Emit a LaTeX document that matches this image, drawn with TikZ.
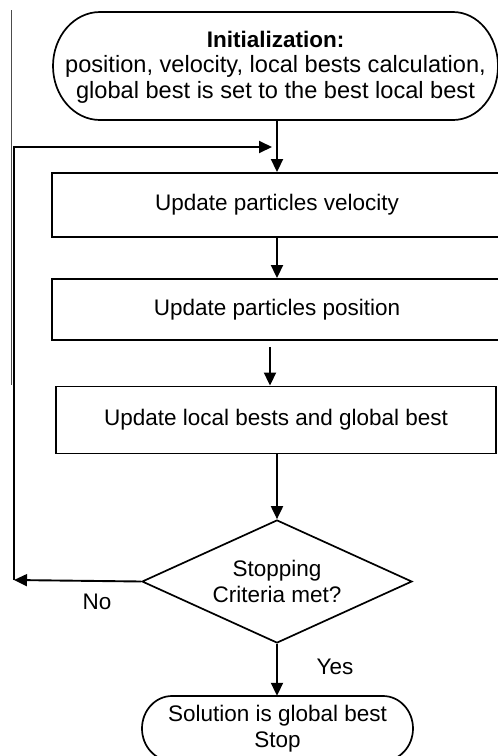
\documentclass[tikz,border=0pt]{standalone}
\usepackage{fontspec}
\setmainfont{Liberation Sans}
\usetikzlibrary{arrows.meta,shapes.geometric}

\tikzset{
  txt/.style={font=\fontsize{22.5}{26}\selectfont, inner sep=0pt, align=center},
  procbox/.style={txt, draw, line width=1.9pt, minimum height=#1, anchor=center},
  decision/.style={txt, draw, diamond, shape aspect=2.2, line width=1.7pt, minimum width=270pt, minimum height=123pt},
  ghost/.style={txt, minimum width=#1},
  outline/.style={line width=1.7pt},
  arr/.style={line width=1.9pt, -{Triangle[length=13pt,width=12pt]}},
  edge/.style={line width=0.8pt, black!70},
}

\begin{document}
\begin{tikzpicture}[x=1pt, y=-1pt]
  \useasboundingbox (0,0) rectangle (498,756);
  \clip (0,0) rectangle (498,756);
  \fill[white] (0,0) rectangle (498,756);

  % thin edge line at the left
  \draw[edge] (11,10) -- (11,385);

  % start terminal
  \node[ghost=445pt, minimum height=108pt, font=\fontsize{23.6}{25.5}\selectfont] (init) at (275.5,67)
    {{\fontsize{22.5}{25.5}\selectfont\textbf{Initialization:}}\\
     position, velocity, local bests calculation,\\
     global best is set to the best local best};
  \draw[outline] (100,12) -- (453,12)
    arc[start angle=90, end angle=-90, x radius=45pt, y radius=54pt]
    -- (100,120)
    arc[start angle=270, end angle=90, x radius=47pt, y radius=54pt];

  % process boxes
  \node[procbox=64pt, minimum width=450pt] (vel) at (277,205) {Update particles velocity};
  \node[procbox=61pt, minimum width=450pt] (pos) at (277,309.5) {Update particles position};
  \node[procbox=67pt, minimum width=440pt] (best) at (276,420) {Update local bests and global best};

  % decision
  \node[decision] (dec) at (277,581.5) {Stopping\\Criteria met?};

  % end terminal
  \node[ghost=271pt, minimum height=65pt] (stop) at (277.5,728.5) {Solution is global best\\Stop};
  \draw[outline] (172,696) -- (383,696)
    arc[start angle=90, end angle=-90, x radius=30pt, y radius=32.5pt]
    -- (172,761)
    arc[start angle=270, end angle=90, x radius=30pt, y radius=32.5pt];

  % connectors
  \coordinate (initout) at (277,120);
  \draw[arr] (initout) -- (vel.north);
  \draw[arr] (vel.south) -- (vel.south |- pos.north);
  \coordinate (posout) at (270,347);
  \draw[arr] (posout) -- (posout |- best.north);
  \draw[arr] (best.south -| dec.north) -- (dec.north);
  \draw[arr] (dec.south) -- (dec.south |- stop.north);

  % loop back
  \coordinate (loopbend) at (14,580);
  \coordinate (loopend) at (272,147);
  \draw[arr] (dec.west) -- (loopbend);
  \draw[arr] (loopbend) |- (loopend);

  % branch labels
  \node[txt] (nolbl) at (97,602) {No};
  \node[txt] (yeslbl) at (335,667) {Yes};
\end{tikzpicture}
\end{document}
